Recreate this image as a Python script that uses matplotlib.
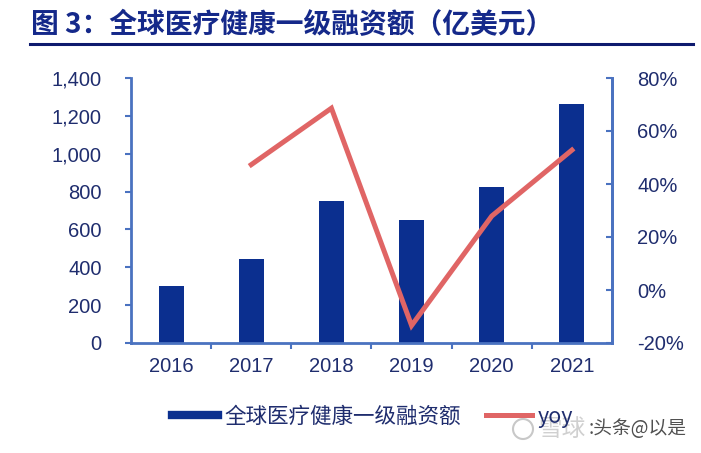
import matplotlib
matplotlib.use("Agg")
import matplotlib.pyplot as plt
import numpy as np
from matplotlib.lines import Line2D
from matplotlib.patches import Ellipse

plt.rcParams['font.family'] = ['Liberation Sans', 'Noto Sans CJK SC', 'DejaVu Sans']

# 数据
years = ['2016', '2017', '2018', '2019', '2020', '2021']
funding = [300, 442, 752, 651, 826, 1262]          # 亿美元
yoy = [np.nan, 47.3, 68.6, -13.4, 27.9, 52.8]      # %

bar_color = '#0B2F8F'
line_color = '#E06565'
spine_color = '#4A72C0'
text_color = '#1F2D6E'
cjk = ['Noto Sans CJK SC', 'DejaVu Sans']

fig = plt.figure(figsize=(7.01, 4.53), dpi=100)
ax = fig.add_axes([131 / 701, 1 - 343 / 453, 481 / 701, 265 / 453])
ax2 = ax.twinx()

x = np.arange(len(years))
ax.bar(x, funding, width=0.31, color=bar_color, zorder=2)
ax2.plot(x, yoy, color=line_color, linewidth=3.6, solid_joinstyle='miter', zorder=3)

# 左轴
ax.set_xlim(-0.5, len(years) - 0.5)
ax.set_ylim(0, 1400)
ax.set_yticks(range(0, 1401, 200))
ax.set_yticklabels([f'{v:,}' for v in range(0, 1401, 200)])
ax.tick_params(axis='y', direction='out', length=4, width=1.5, color=spine_color,
               labelsize=14.5, labelcolor=text_color, pad=17)

# x 轴：刻度线在类别之间，标签在中心
ax.set_xticks(np.arange(0.5, len(years) - 1, 1))
ax.set_xticklabels([])
ax.tick_params(axis='x', which='major', direction='out', length=4, width=1.5, color=spine_color)
ax.set_xticks(x, minor=True)
ax.set_xticklabels(years, minor=True)
ax.tick_params(axis='x', which='minor', length=0, labelsize=14.5, labelcolor=text_color, pad=10)

# 右轴
ax2.set_ylim(-20, 80)
ax2.set_yticks(range(-20, 81, 20))
ax2.set_yticklabels([f'{v}%' for v in range(-20, 81, 20)])
ax2.tick_params(axis='y', direction='in', length=4, width=1.5, color=spine_color,
                labelsize=14.5, labelcolor=text_color, pad=18)

for a in (ax, ax2):
    a.spines['top'].set_visible(False)
    for s in ('left', 'right', 'bottom'):
        a.spines[s].set_color(spine_color)
        a.spines[s].set_linewidth(2)
ax2.spines['left'].set_visible(False)
ax2.spines['bottom'].set_visible(False)

# 标题与下划线
fig.text(31 / 701, 1 - 25 / 453, '图 3：全球医疗健康一级融资额（亿美元）', fontsize=20,
         fontweight='bold', color='#15298A', va='center', ha='left', family=cjk)
fig.add_artist(Line2D([30 / 701, 693 / 701], [1 - 44 / 453, 1 - 44 / 453],
                      color='#0E1A6E', linewidth=2.2))

# 图例
handles = [Line2D([], [], color=bar_color, linewidth=6),
           Line2D([], [], color=line_color, linewidth=3.6)]
fig.legend(handles, ['全球医疗健康一级融资额', 'yoy'], loc='center',
           bbox_to_anchor=(373 / 701, 1 - 417 / 453), ncol=2, frameon=False,
           labelcolor=text_color, handlelength=2.1,
           handletextpad=0.3, columnspacing=1.2,
           prop={'family': cjk, 'size': 15.5})

# 水印
fig.add_artist(Ellipse((523 / 701, 1 - 429 / 453), 20 / 701, 20 / 453,
                       fill=False, edgecolor='#C8C8C8', linewidth=1.5,
                       transform=fig.transFigure))
fig.text(538 / 701, 1 - 429 / 453, '雪球', fontsize=17, color='#D0D0D0', va='center', ha='left',
         family=cjk)
fig.text(589 / 701, 1 - 429 / 453, ':头条@以是', fontsize=13.5, color='#505050', va='center', ha='left',
         family=cjk)

fig.savefig('out.png', dpi=100)
